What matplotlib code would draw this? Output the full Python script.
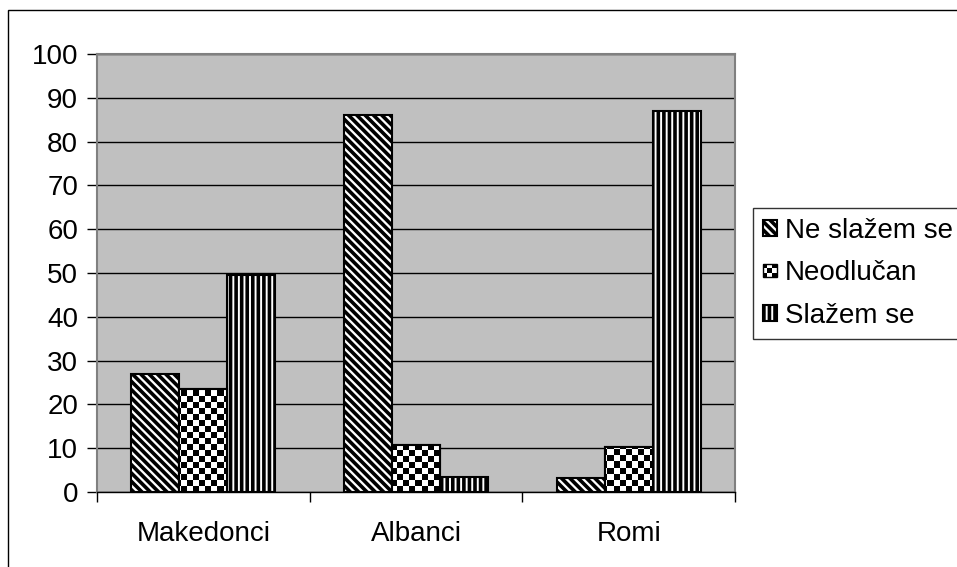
import numpy as np
import matplotlib
matplotlib.use('Agg')
import matplotlib.pyplot as plt
from matplotlib.patches import Rectangle
from matplotlib.legend_handler import HandlerBase

# data
groups = ['Makedonci', 'Albanci', 'Romi']
series = ['Ne slažem se', 'Neodlučan', 'Slažem se']
ne_slazem = [27, 86, 3.2]
neodlucan = [23.5, 10.7, 10.3]
slazem = [49.5, 3.4, 87]
y_ticks = [0, 10, 20, 30, 40, 50, 60, 70, 80, 90, 100]

plt.rcParams['font.family'] = ['Liberation Sans', 'DejaVu Sans']
plt.rcParams['hatch.linewidth'] = 2.6
plt.rcParams['hatch.color'] = 'black'

W, H = 957, 567
fig = plt.figure(figsize=(W / 100, H / 100), dpi=100)
# outer chart border (left and top visible, rest cut off)
fig.patches.append(Rectangle((8 / W, -0.1), 1.2, 1.1 - 10 / H, transform=fig.transFigure,
                             fill=False, edgecolor='black', linewidth=1.0))

ax = fig.add_axes([97 / W, 1 - 492 / H, (735 - 97) / W, (492 - 54) / H])
ax.set_facecolor('#c0c0c0')

x = np.arange(len(groups))
w = 0.226
b1 = ax.bar(x - w, ne_slazem, w, color='white', edgecolor='black', linewidth=1.5,
            hatch='\\\\\\\\', zorder=3, label=series[0])
b2 = ax.bar(x, neodlucan, w, color='white', edgecolor='black', linewidth=1.5,
            zorder=3, label=series[1])
b3 = ax.bar(x + w, slazem, w, color='white', edgecolor='black', linewidth=1.5,
            hatch='|||', zorder=3, label=series[2])

ax.set_xlim(-0.5, 2.5)
ax.set_ylim(0, 100)

# checkerboard fill for the middle series, clipped to each bar
cell = 6
ny, nx = (492 - 54) // cell + 1, (735 - 97) // cell + 1
checker = (np.indices((ny, nx)).sum(axis=0) % 2).astype(float)
for bar in b2:
    im = ax.imshow(checker, cmap='gray', extent=(-0.5, -0.5 + nx * cell * 3 / 638, 0, ny * cell * 100 / 438),
                   origin='lower', aspect='auto', interpolation='nearest', zorder=3.5)
    im.set_clip_path(bar)
    ax.add_patch(Rectangle(bar.get_xy(), bar.get_width(), bar.get_height(),
                           fill=False, edgecolor='black', linewidth=1.5, zorder=4))
ax.set_xlim(-0.5, 2.5)
ax.set_ylim(0, 100)

ax.set_yticks(y_ticks)
ax.yaxis.grid(True, color='black', linewidth=1.0, zorder=1)
ax.set_axisbelow(True)
ax.tick_params(axis='y', direction='out', length=7, width=1, labelsize=20, pad=6.5)

ax.set_xticks(x)
ax.set_xticklabels(groups)
ax.set_xticks([-0.5, 0.5, 1.5, 2.5], minor=True)
ax.tick_params(axis='x', which='major', length=0, labelsize=20, pad=21)
ax.tick_params(axis='x', which='minor', direction='out', length=7, width=1)

for s in ['top', 'right', 'left']:
    ax.spines[s].set_color('#808080')
    ax.spines[s].set_linewidth(1.5)
ax.spines['bottom'].set_color('black')
ax.spines['bottom'].set_linewidth(1.0)


class CheckerHandler(HandlerBase):
    def create_artists(self, legend, orig_handle, xdescent, ydescent, width, height, fontsize, trans):
        n = 3
        s = min(width, height)
        x0 = -xdescent
        y0 = -ydescent + (height - s) / 2
        c = s / n
        arts = [Rectangle((x0, y0), s, s, facecolor='white', edgecolor='black', linewidth=1, transform=trans)]
        for i in range(n):
            for j in range(n):
                if (i + j) % 2 == 0:
                    arts.append(Rectangle((x0 + i * c, y0 + j * c), c, c, facecolor='black',
                                          edgecolor='none', transform=trans))
        return arts


leg = fig.legend(handles=[b1, b2, b3], labels=series, loc='upper left',
                 bbox_to_anchor=(753 / W, 1 - 208 / H), fontsize=20, frameon=True,
                 fancybox=False, edgecolor='black', handlelength=0.5, handleheight=0.5,
                 handletextpad=0.3, labelspacing=0.6, borderpad=0.35, borderaxespad=0,
                 handler_map={b2: CheckerHandler()})
leg.get_frame().set_linewidth(1.0)

fig.savefig('out.png', dpi=100)
